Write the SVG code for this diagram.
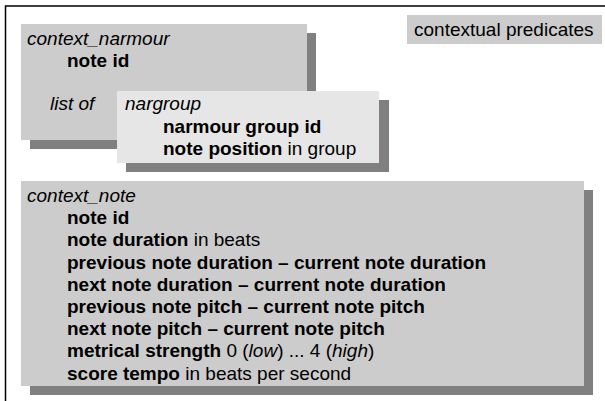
<svg xmlns="http://www.w3.org/2000/svg" width="605" height="401" viewBox="0 0 605 401">
<style>
text{font-family:"Liberation Sans",Arial,sans-serif;font-size:19px;fill:#000}
.i{font-style:italic}
.b{font-weight:bold}
.sh{fill:#808080}
.g{fill:#cccccc}
.l{fill:#e6e6e6}
</style>
<rect width="605" height="401" fill="#fff"/>
<g id="frame" fill="none" stroke="#000" stroke-width="1.5">
<path d="M5.5,401 V6 H605"/>
</g>
<g id="contextual_predicates">
<rect class="g" x="407" y="15" width="195" height="29"/>
<text x="414" y="36">contextual predicates</text>
</g>
<g id="context_narmour">
<rect class="sh" x="30" y="33" width="286" height="116"/>
<rect class="g" x="21" y="24" width="286" height="116"/>
<text class="i" x="27" y="45">context_narmour</text>
<text class="b" x="67" y="66.7">note id</text>
<text class="i" x="50" y="110">list of</text>
</g>
<g id="nargroup">
<rect class="sh" x="126" y="100" width="263" height="72"/>
<rect class="l" x="117" y="91" width="262" height="72"/>
<text class="i" x="125" y="110">nargroup</text>
<text class="b" x="163" y="132.5">narmour group id</text>
<text x="163" y="154.5"><tspan class="b">note position</tspan> in group</text>
</g>
<g id="context_note">
<rect class="sh" x="30" y="190" width="563" height="205"/>
<rect class="g" x="21" y="181" width="563" height="205"/>
<text class="i" x="27" y="202">context_note</text>
<text class="b" x="67" y="224.2">note id</text>
<text x="67" y="246.4"><tspan class="b">note duration</tspan> in beats</text>
<text class="b" x="67" y="268.6">previous note duration – current note duration</text>
<text class="b" x="67" y="290.8">next note duration – current note duration</text>
<text class="b" x="67" y="313">previous note pitch – current note pitch</text>
<text class="b" x="67" y="335.2">next note pitch – current note pitch</text>
<text x="67" y="357.4"><tspan class="b">metrical strength</tspan> 0 (<tspan class="i">low</tspan>) ... 4 (<tspan class="i">high</tspan>)</text>
<text x="67" y="379.6"><tspan class="b">score tempo</tspan> in beats per second</text>
</g>
<g id="connectors"></g>
</svg>
